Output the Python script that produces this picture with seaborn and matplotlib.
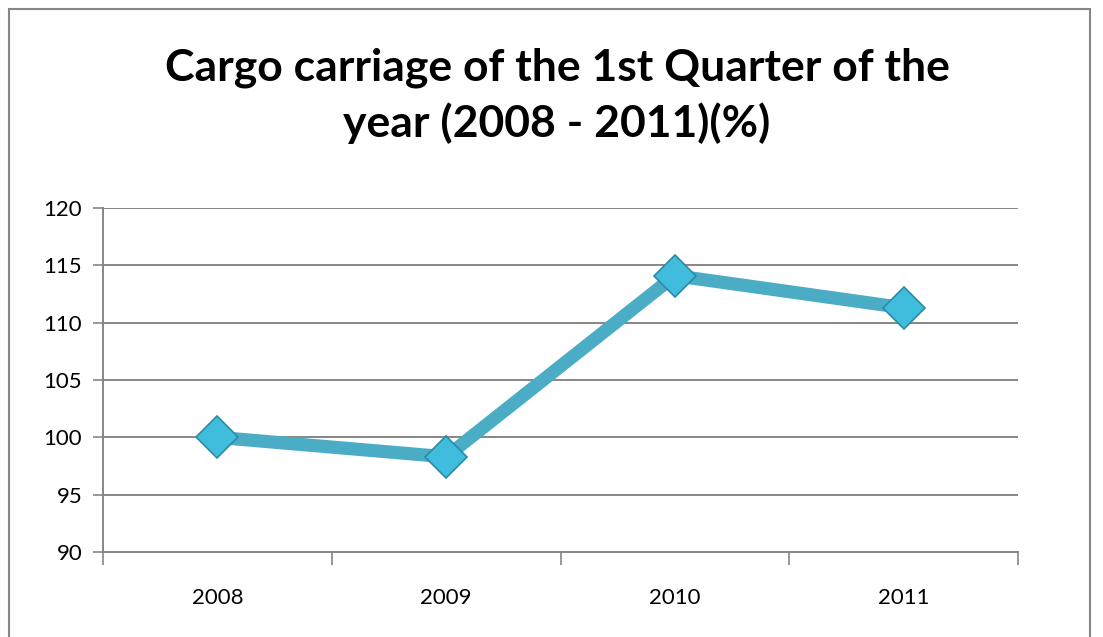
import matplotlib
matplotlib.use("Agg")
import matplotlib.pyplot as plt
import seaborn as sns
import pandas as pd
from matplotlib.patches import Rectangle
from matplotlib.ticker import FixedLocator

years = ["2008", "2009", "2010", "2011"]
values = [100.0, 98.3, 114.1, 111.3]
y_ticks = [90, 95, 100, 105, 110, 115, 120]
title = "Cargo carriage of the 1st Quarter of the\nyear (2008 - 2011)(%)"

sns.set_theme(style="white")
plt.rcParams['font.family'] = ['Lato', 'DejaVu Sans']
plt.rcParams['text.color'] = 'black'

df = pd.DataFrame({"year": years, "value": values})
df["pos"] = range(len(years))

fig = plt.figure(figsize=(11.03, 6.37), dpi=100)
ax = fig.add_axes([103/1103, 85/637, (1018-103)/1103, (552-208)/637])

sns.lineplot(data=df, x="pos", y="value", ax=ax, color="#4BACC6", linewidth=9.5,
             marker="D", markersize=21, markerfacecolor="#40BCDD",
             markeredgecolor="#2B8BA6", markeredgewidth=1.2, zorder=3)

ax.set_xlim(-0.5, len(years) - 0.5)
ax.set_ylim(90, 120)
ax.set_yticks(y_ticks)
ax.set_yticklabels([str(t) for t in y_ticks], fontsize=16, color="black")
ax.set_xticks(range(len(years)))
ax.set_xticklabels(years, fontsize=16, color="black")
ax.xaxis.set_minor_locator(FixedLocator([i - 0.5 for i in range(len(years) + 1)]))
ax.tick_params(axis="x", which="major", length=0, pad=26)
ax.tick_params(axis="x", which="minor", length=9, width=1.2, color="#868686", direction="out", bottom=True)
ax.tick_params(axis="y", which="major", length=7, width=1.2, color="#868686", direction="out", left=True, pad=8)
ax.set_xlabel("")
ax.set_ylabel("")
ax.grid(axis="y", color="#868686", linewidth=1.4)
ax.grid(axis="x", visible=False)
ax.set_axisbelow(True)
for side in ["top", "right"]:
    ax.spines[side].set_visible(False)
for side in ["left", "bottom"]:
    ax.spines[side].set_color("#868686")
    ax.spines[side].set_linewidth(1.4)

fig.text(557/1103, 1 - 96/637, title, ha="center", va="center",
         fontsize=32, fontweight="bold", linespacing=1.4, color="black")

fig.patches.append(Rectangle((9/1103, -0.05), (1090-9)/1103, 1 - 9/637 + 0.05,
                             transform=fig.transFigure, fill=False,
                             edgecolor="#868686", linewidth=1.5))

fig.savefig("out.png", dpi=100)
